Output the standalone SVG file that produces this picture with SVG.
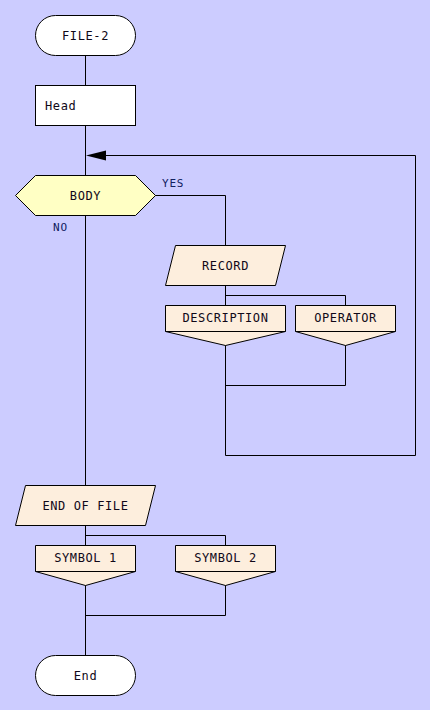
<svg xmlns="http://www.w3.org/2000/svg" width="430" height="710" viewBox="0 0 430 710">
<defs>
<style>
.ln{fill:none;stroke:#000;stroke-width:1}
.sh{stroke:#000;stroke-width:1}
.t{font-family:"DejaVu Sans Mono","Liberation Mono",monospace;font-size:12px;letter-spacing:0.6px;fill:#100818;text-anchor:middle}
.lb{font-family:"DejaVu Sans Mono","Liberation Mono",monospace;font-size:11px;letter-spacing:0.8px;fill:#102060}
.cream{fill:#fdeedd}
.ah{fill:#000}
</style>
</defs>
<rect x="0" y="0" width="430" height="710" fill="#ccccff"/>
<g id="connectors">
<path class="ln" d="M85.5,55 V85"/>
<path class="ln" d="M85.5,125 V175"/>
<path class="ln" d="M85.5,215 V485"/>
<path class="ln" d="M155,195.5 H225.5 V245"/>
<path class="ln" d="M225.5,285 V305"/>
<path class="ln" d="M225.5,295.5 H345.5 V305"/>
<path class="ln" d="M225.5,345 V455.5 H415.5 V155.5 H106"/>
<path class="ln" d="M345.5,345 V385.5 H225.5"/>
<path class="ah" d="M86,155.5 L106,150.5 L106,160.5 Z"/>
<path class="ln" d="M85.5,525 V545"/>
<path class="ln" d="M85.5,535.5 H225.5 V545"/>
<path class="ln" d="M85.5,585 V655"/>
<path class="ln" d="M225.5,585 V615.5 H85.5"/>
<text class="lb" x="162" y="187">YES</text>
<text class="lb" x="53" y="231">NO</text>
</g>
<g id="file2">
<rect class="sh" x="35.5" y="15.5" width="100" height="40" rx="20" ry="20" fill="#fff"/>
<text class="t" x="85.5" y="39.5">FILE-2</text>
</g>
<g id="head">
<rect class="sh" x="35.5" y="85.5" width="100" height="40" fill="#fff"/>
<text class="t" x="45" y="109.5" style="text-anchor:start">Head</text>
</g>
<g id="body">
<polygon class="sh" points="15.5,195.5 35.5,175.5 135.5,175.5 155.5,195.5 135.5,215.5 35.5,215.5" fill="#ffffc4"/>
<text class="t" x="85.5" y="199.5">BODY</text>
</g>
<g id="record">
<polygon class="sh cream" points="175.5,245.5 285.5,245.5 275.5,285.5 165.5,285.5"/>
<text class="t" x="225.5" y="269.5">RECORD</text>
</g>
<g id="description">
<polygon class="sh cream" points="165.5,305.5 285.5,305.5 285.5,331.5 225.5,345.5 165.5,331.5"/>
<path class="ln" d="M165.5,331.5 H285.5"/>
<text class="t" x="225.5" y="322">DESCRIPTION</text>
</g>
<g id="operator">
<polygon class="sh cream" points="295.5,305.5 395.5,305.5 395.5,331.5 345.5,345.5 295.5,331.5"/>
<path class="ln" d="M295.5,331.5 H395.5"/>
<text class="t" x="345.5" y="322">OPERATOR</text>
</g>
<g id="endoffile">
<polygon class="sh cream" points="25.5,485.5 155.5,485.5 145.5,525.5 15.5,525.5"/>
<text class="t" x="85.5" y="509.5">END OF FILE</text>
</g>
<g id="symbol1">
<polygon class="sh cream" points="35.5,545.5 135.5,545.5 135.5,571.5 85.5,585.5 35.5,571.5"/>
<path class="ln" d="M35.5,571.5 H135.5"/>
<text class="t" x="85.5" y="562">SYMBOL 1</text>
</g>
<g id="symbol2">
<polygon class="sh cream" points="175.5,545.5 275.5,545.5 275.5,571.5 225.5,585.5 175.5,571.5"/>
<path class="ln" d="M175.5,571.5 H275.5"/>
<text class="t" x="225.5" y="562">SYMBOL 2</text>
</g>
<g id="end">
<rect class="sh" x="35.5" y="655.5" width="100" height="40" rx="20" ry="20" fill="#fff"/>
<text class="t" x="85.5" y="679.5">End</text>
</g>
</svg>
